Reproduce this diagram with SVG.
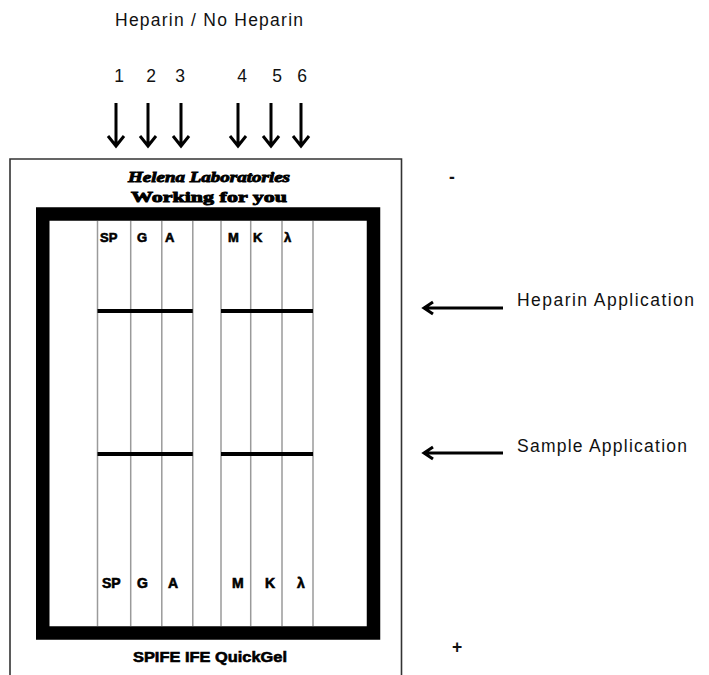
<svg xmlns="http://www.w3.org/2000/svg" width="709" height="675" viewBox="0 0 709 675">
<style>
.lbl{font-family:"Liberation Sans",Arial,sans-serif;font-size:17.5px;fill:#111}
.lane{stroke:#9a9a9a;stroke-width:1.5}
.bar{stroke:#000;stroke-width:4}
.arr{fill:none;stroke:#000;stroke-width:3;stroke-linejoin:miter}
.tl{font-family:"Liberation Sans",Arial,sans-serif;font-weight:bold;fill:#000;stroke:#000;stroke-width:0.6}
.hel{font-family:"Liberation Serif","Times New Roman",serif;font-weight:bold;fill:#000;stroke:#000;stroke-width:0.9}
</style>
<defs>
<g id="darr"><path class="arr" d="M0 103 V146 M-8 136 L0 146 L8 136"/></g>
<g id="larr"><path class="arr" d="M503 0 H424 M433 -6 L424 0 L433 6"/></g>
</defs>
<rect width="709" height="675" fill="#fff"/>

<g id="title">
<text class="lbl" x="115" y="26" textLength="188" lengthAdjust="spacing">Heparin / No Heparin</text>
</g>

<g id="lane-numbers">
<text class="lbl" x="119" y="82" text-anchor="middle">1</text>
<text class="lbl" x="151" y="82" text-anchor="middle">2</text>
<text class="lbl" x="180" y="82" text-anchor="middle">3</text>
<text class="lbl" x="242" y="82" text-anchor="middle">4</text>
<text class="lbl" x="277" y="82" text-anchor="middle">5</text>
<text class="lbl" x="302" y="82" text-anchor="middle">6</text>
</g>

<g id="connectors">
<use href="#darr" x="116" y="0"/>
<use href="#darr" x="148" y="0"/>
<use href="#darr" x="181" y="0"/>
<use href="#darr" x="238" y="0"/>
<use href="#darr" x="271" y="0"/>
<use href="#darr" x="301" y="0"/>
<use href="#larr" x="0" y="308"/>
<use href="#larr" x="0" y="453"/>
</g>

<g id="plate">
<path d="M10 676 V159 H401.5 V676" fill="none" stroke="#333" stroke-width="1.6"/>
<text class="hel" x="209" y="182" text-anchor="middle" font-style="italic" font-size="15.5" textLength="162" lengthAdjust="spacingAndGlyphs">Helena Laboratories</text>
<text class="hel" x="209" y="202" text-anchor="middle" font-size="15.5" textLength="156" lengthAdjust="spacingAndGlyphs">Working for you</text>
<rect x="42.75" y="214" width="330.75" height="419" fill="none" stroke="#000" stroke-width="13.5"/>
<g id="lanes">
<line class="lane" x1="97.5" y1="221" x2="97.5" y2="626"/>
<line class="lane" x1="130.7" y1="221" x2="130.7" y2="626"/>
<line class="lane" x1="161.8" y1="221" x2="161.8" y2="626"/>
<line class="lane" x1="192.8" y1="221" x2="192.8" y2="626"/>
<line class="lane" x1="221" y1="221" x2="221" y2="626"/>
<line class="lane" x1="250.7" y1="221" x2="250.7" y2="626"/>
<line class="lane" x1="282" y1="221" x2="282" y2="626"/>
<line class="lane" x1="313" y1="221" x2="313" y2="626"/>
</g>
<g id="bars">
<line class="bar" x1="97.5" y1="311" x2="192.8" y2="311"/>
<line class="bar" x1="221" y1="311" x2="313" y2="311"/>
<line class="bar" x1="97.5" y1="454" x2="192.8" y2="454"/>
<line class="bar" x1="221" y1="454" x2="313" y2="454"/>
</g>
<g id="top-labels" font-size="13">
<text class="tl" x="100" y="242">SP</text>
<text class="tl" x="137" y="242">G</text>
<text class="tl" x="165" y="242">A</text>
<text class="tl" x="228" y="242">M</text>
<text class="tl" x="253" y="242">K</text>
<text class="tl" x="284" y="242">λ</text>
</g>
<g id="bottom-labels" font-size="14">
<text class="tl" x="102" y="588">SP</text>
<text class="tl" x="137" y="588">G</text>
<text class="tl" x="168" y="588">A</text>
<text class="tl" x="232" y="588">M</text>
<text class="tl" x="265" y="588">K</text>
<text class="tl" x="297" y="588">λ</text>
</g>
<text class="tl" x="133" y="662" font-size="15" textLength="154" lengthAdjust="spacingAndGlyphs">SPIFE IFE QuickGel</text>
</g>

<g id="polarity">
<text class="lbl" x="452" y="183" text-anchor="middle" font-size="22" font-weight="bold">-</text>
<text class="lbl" x="457" y="653" text-anchor="middle" font-size="30" font-weight="bold">+</text>
</g>

<g id="side-labels">
<text class="lbl" x="517" y="306" textLength="177" lengthAdjust="spacing">Heparin Application</text>
<text class="lbl" x="517" y="452" textLength="170" lengthAdjust="spacing">Sample Application</text>
</g>
</svg>
